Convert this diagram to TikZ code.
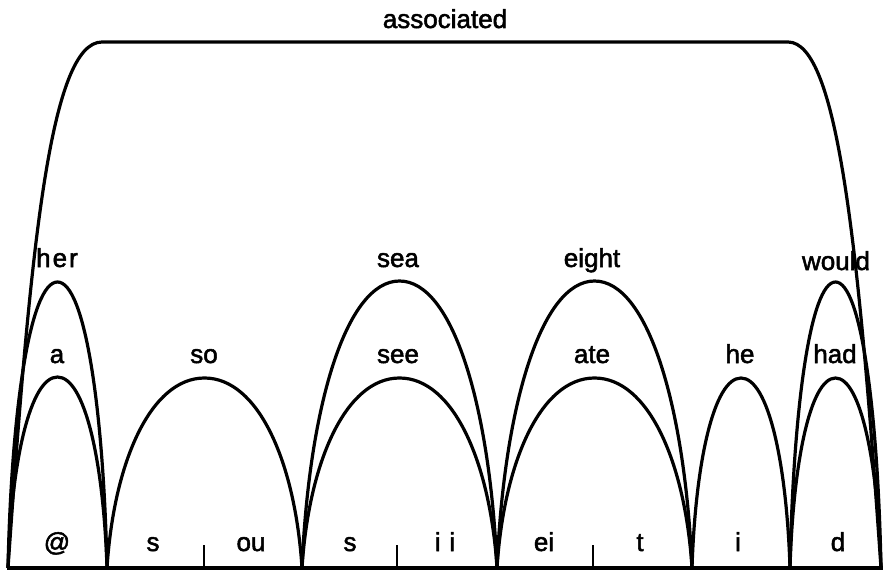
\documentclass[tikz,border=0pt]{standalone}
\usepackage{fontspec}
\setmainfont{Liberation Sans}[UprightFeatures = {FakeBold = 2}]

\begin{document}
\begin{tikzpicture}
    [
        x = 1pt, y = -1pt,
        line width = 3.2pt,
        word/.style = {anchor = base, inner sep = 0, font = \fontsize{26}{30}\selectfont},
        sound/.style = {word},
        ticks/.style = {line width = 2.4pt}]

    \useasboundingbox (0, 0) rectangle (886, 575);

    % base line and the syllable marks on it
    \coordinate (base left) at (7, 568);
    \coordinate (base right) at (883, 568);
    \draw (base left) -- (base right);
    \foreach \x [count = \i] in {204, 397, 593} {
        \coordinate (tick\i) at (\x, 568);
        \draw [ticks] (tick\i) -- ++(0, -23);
    }

    % one arch per word: left end / right end / height of the top
    \foreach \l/\r/\t in {8/107/377, 8/107/282, 107/302/378, 302/497/378, 302/497/281,
                          497/692/378, 497/692/281, 692/790/378, 790/881/378, 790/881/282} {
        \pgfmathsetmacro{\m}{(\l + \r) / 2}
        \pgfmathsetmacro{\w}{(\r - \l) / 2}
        \pgfmathsetmacro{\h}{568 - \t}
        \draw (\l, 568) .. controls ({\l + 0.07 * \w}, {568 - 0.56 * \h}) and ({\m - 0.55 * \w}, \t) .. (\m, \t)
                        .. controls ({\m + 0.55 * \w}, \t) and ({\r - 0.07 * \w}, {568 - 0.56 * \h}) .. (\r, 568);
    }

    % the long arch over the whole phrase
    \draw (8, 568) .. controls (30, 250) and (50, 42) .. (102, 42)
        -- (788, 42) .. controls (838, 42) and (859, 250) .. (881, 568);

    % words
    \node [word] (associated) at (445, 28) {associated};
    \node [word] (her) at (57, 267) {h\kern2pt e\kern2pt r};
    \node [word] (a) at (57, 363) {a};
    \node [word] (so) at (204, 363) {so};
    \node [word] (sea) at (398, 267) {sea};
    \node [word] (see) at (398, 363) {see};
    \node [word] (eight) at (592, 267) {eight};
    \node [word] (ate) at (592, 363) {ate};
    \node [word] (he) at (740, 363) {he};
    \node [word] (would) at (836, 270) {would};
    \node [word] (had) at (835, 363) {had};

    % sounds
    \node [sound] (s-at) at (57, 551) {@};
    \node [sound] (s-s1) at (153, 551) {s};
    \node [sound] (s-ou) at (251, 551) {ou};
    \node [sound] (s-s2) at (350, 551) {s};
    \node [sound] (s-ii) at (445, 551) {i\,\,i};
    \node [sound] (s-ei) at (544, 551) {ei};
    \node [sound] (s-t) at (640, 551) {t};
    \node [sound] (s-i) at (738, 551) {i};
    \node [sound] (s-d) at (838, 551) {d};

\end{tikzpicture}
\end{document}
